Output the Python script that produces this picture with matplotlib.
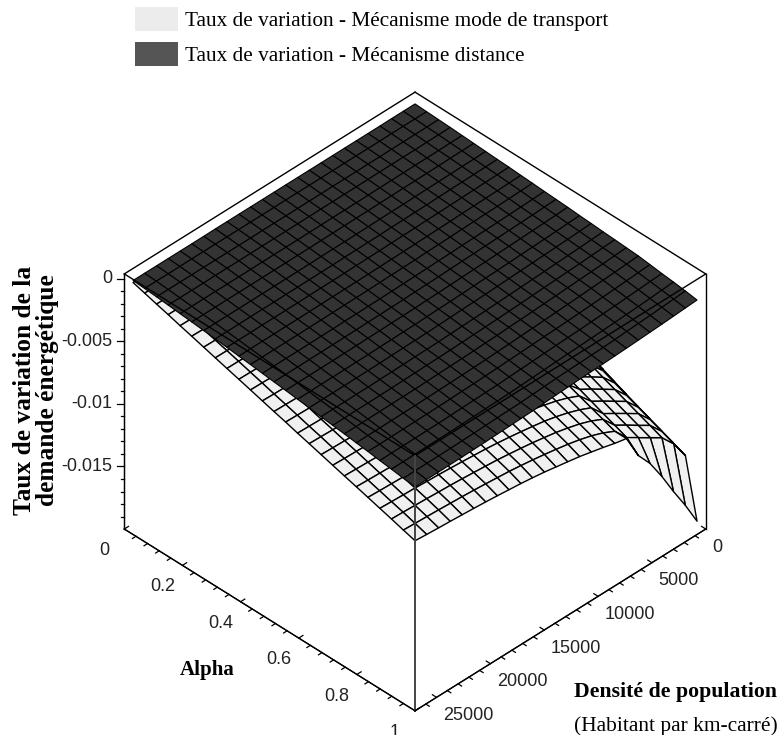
import matplotlib
matplotlib.use("Agg")
import matplotlib.pyplot as plt
from matplotlib.patches import Patch
import numpy as np

# mesh of the two surfaces
density_grid = [810, 1901, 2997, 4077, 5184, 6264, 7371, 8451, 9531, 10638, 11718, 12825, 13905,
                14985, 16092, 17172, 18279, 19359, 20439, 21546, 22626, 23733, 24813, 25920, 27000]
alpha_grid = [0.03, 0.07, 0.111, 0.151, 0.192, 0.232, 0.273, 0.313, 0.353, 0.394, 0.434, 0.475, 0.515,
              0.555, 0.596, 0.636, 0.677, 0.717, 0.757, 0.798, 0.838, 0.879, 0.919, 0.96, 1.0]

# distance mechanism, in 1e-5, one row per alpha
dark_z = [
    [33, 33, 33, 32, 32, 32, 32, 32, 32, 32, 32, 32, 32, 32, 32, 32, 32, 32, 31, 31, 31, 31, 31, 31, 31],
    [29, 29, 29, 29, 28, 28, 28, 28, 27, 27, 27, 27, 27, 26, 26, 26, 26, 26, 26, 26, 26, 25, 25, 25, 25],
    [25, 24, 24, 23, 23, 22, 22, 21, 21, 21, 20, 20, 19, 19, 19, 19, 18, 18, 18, 18, 18, 18, 18, 18, 18],
    [21, 20, 19, 18, 18, 17, 17, 16, 15, 15, 14, 14, 13, 13, 12, 12, 12, 11, 11, 11, 11, 10, 10, 10, 10],
    [16, 15, 13, 12, 12, 11, 10, 9, 8, 7, 6, 6, 5, 4, 4, 3, 3, 3, 2, 2, 2, 2, 2, 1, 1],
    [11, 10, 9, 7, 6, 5, 4, 3, 2, 1, 0, -1, -2, -3, -4, -4, -5, -5, -6, -6, -6, -6, -7, -7, -7],
    [6, 4, 3, 1, 0, -2, -3, -5, -6, -7, -8, -10, -11, -11, -12, -13, -14, -14, -15, -15, -16, -16, -16, -16, -16],
    [1, -1, -3, -5, -6, -8, -10, -11, -13, -14, -16, -17, -18, -19, -21, -21, -22, -23, -23, -24, -24, -24, -25, -25, -25],
    [-3, -6, -8, -10, -12, -14, -16, -18, -20, -21, -23, -25, -26, -27, -29, -30, -30, -31, -32, -33, -33, -33, -34, -34, -34],
    [-9, -12, -15, -17, -19, -21, -24, -26, -28, -30, -32, -34, -35, -37, -38, -39, -40, -41, -42, -43, -43, -44, -44, -44, -45],
    [-14, -17, -20, -23, -25, -28, -30, -33, -35, -37, -40, -42, -43, -45, -47, -48, -49, -50, -51, -52, -53, -53, -53, -54, -54],
    [-20, -24, -27, -30, -33, -36, -38, -41, -44, -46, -49, -51, -53, -55, -57, -58, -59, -60, -62, -62, -63, -64, -64, -64, -65],
    [-25, -29, -33, -36, -39, -42, -45, -48, -51, -54, -57, -59, -61, -64, -66, -67, -68, -70, -71, -72, -73, -73, -74, -74, -75],
    [-30, -35, -39, -42, -46, -49, -52, -56, -59, -62, -65, -68, -70, -73, -75, -76, -78, -79, -81, -82, -83, -83, -84, -84, -85],
    [-37, -42, -46, -50, -54, -57, -61, -65, -68, -71, -75, -78, -80, -83, -86, -87, -89, -90, -92, -93, -94, -95, -95, -96, -96],
    [-42, -47, -52, -56, -60, -64, -68, -72, -76, -80, -83, -86, -89, -92, -95, -97, -98, -100, -102, -103, -104, -105, -105, -106, -106],
    [-49, -54, -59, -64, -68, -73, -77, -81, -85, -89, -93, -97, -100, -103, -106, -108, -109, -111, -113, -114, -116, -116, -117, -117, -118],
    [-54, -60, -65, -71, -75, -80, -84, -89, -94, -98, -102, -106, -109, -112, -115, -117, -119, -121, -123, -125, -126, -127, -127, -128, -129],
    [-60, -66, -72, -77, -82, -87, -92, -97, -102, -106, -110, -115, -118, -122, -125, -127, -129, -132, -134, -135, -136, -137, -138, -139, -139],
    [-66, -73, -79, -85, -90, -96, -101, -106, -111, -116, -120, -125, -129, -133, -136, -139, -141, -143, -145, -147, -148, -149, -150, -151, -151],
    [-77, -84, -90, -97, -102, -107, -113, -117, -122, -125, -130, -134, -138, -142, -146, -149, -151, -154, -156, -158, -159, -160, -161, -162, -162],
    [-89, -95, -101, -107, -113, -118, -123, -128, -132, -136, -140, -145, -149, -153, -158, -160, -163, -165, -168, -170, -171, -172, -173, -174, -175],
    [-99, -106, -113, -119, -124, -129, -134, -138, -142, -146, -150, -155, -159, -164, -168, -171, -173, -176, -179, -181, -182, -183, -184, -185, -186],
    [-111, -118, -124, -131, -136, -141, -147, -152, -155, -158, -161, -165, -170, -175, -180, -182, -185, -188, -191, -193, -195, -196, -197, -198, -199],
    [-125, -131, -137, -143, -148, -153, -158, -162, -166, -169, -172, -176, -180, -185, -190, -193, -196, -199, -202, -204, -206, -207, -208, -209, -210],
]

# transport mode mechanism, depth below 0 in 1e-5, one list per density
white_depth = [
    [150, 271, 370, 449, 524, 591, 654, 712, 768, 824, 875, 925, 973, 1016, 1063, 1106, 1149, 1192, 1232, 1273, 1311, 1350, 1387, 1427, 1894],
    [100, 199, 284, 352, 419, 479, 537, 591, 642, 694, 742, 790, 834, 876, 921, 962, 1003, 1044, 1083, 1123, 1160, 1199, 1235, 1274, 1708],
    [69, 154, 228, 289, 350, 404, 458, 508, 557, 604, 650, 697, 739, 777, 822, 862, 902, 940, 979, 1017, 1054, 1092, 1128, 1166, 1539],
    [48, 122, 189, 247, 303, 355, 406, 455, 500, 547, 593, 638, 679, 717, 762, 800, 841, 880, 918, 957, 995, 1033, 1070, 1108, 1360],
    [31, 96, 157, 209, 261, 309, 358, 404, 448, 494, 536, 580, 621, 659, 702, 741, 781, 820, 858, 896, 934, 973, 1008, 1048, 1196],
    [19, 77, 131, 180, 228, 273, 319, 362, 405, 447, 490, 531, 571, 608, 649, 687, 727, 765, 803, 840, 877, 916, 951, 990, 1075],
    [7, 55, 102, 142, 185, 226, 265, 304, 342, 381, 419, 457, 493, 526, 565, 599, 636, 670, 706, 741, 775, 810, 844, 880, 880],
    [3, 46, 89, 128, 168, 206, 244, 281, 317, 354, 390, 426, 461, 493, 530, 563, 599, 632, 666, 700, 733, 768, 799, 835, 860],
    [-1, 39, 79, 116, 154, 190, 225, 262, 295, 332, 366, 402, 435, 466, 502, 534, 569, 601, 634, 668, 700, 734, 765, 800, 835],
    [-5, 33, 71, 105, 142, 176, 211, 245, 278, 313, 347, 382, 414, 444, 479, 511, 545, 577, 609, 641, 673, 706, 738, 772, 812],
    [-11, 22, 56, 88, 122, 155, 188, 221, 253, 287, 319, 353, 385, 418, 452, 484, 518, 550, 583, 616, 649, 683, 715, 750, 790],
    [-11, 20, 54, 85, 118, 150, 183, 214, 246, 279, 310, 344, 375, 407, 440, 471, 504, 536, 568, 600, 632, 666, 697, 731, 772],
    [-12, 19, 52, 82, 115, 146, 178, 209, 240, 272, 303, 335, 366, 397, 429, 460, 492, 523, 554, 586, 617, 650, 680, 714, 755],
    [-12, 18, 50, 80, 112, 142, 174, 204, 234, 266, 296, 328, 358, 388, 420, 450, 482, 512, 543, 574, 604, 636, 666, 699, 738],
    [-13, 17, 48, 78, 109, 139, 170, 199, 229, 260, 290, 321, 350, 380, 411, 441, 472, 502, 531, 562, 592, 623, 653, 685, 724],
    [-13, 16, 47, 76, 107, 136, 166, 195, 225, 255, 284, 315, 344, 373, 404, 433, 463, 493, 522, 552, 582, 612, 641, 673, 712],
    [-13, 15, 46, 74, 105, 134, 164, 192, 221, 251, 280, 311, 339, 368, 398, 427, 457, 486, 515, 545, 574, 604, 632, 664, 702],
    [-14, 15, 45, 73, 103, 132, 161, 190, 218, 248, 276, 306, 334, 363, 393, 421, 451, 479, 508, 537, 566, 596, 624, 655, 692],
    [-14, 14, 44, 72, 101, 130, 159, 187, 215, 244, 272, 302, 330, 358, 388, 416, 445, 473, 502, 531, 559, 589, 616, 647, 683],
    [-14, 14, 43, 70, 100, 128, 157, 185, 213, 241, 269, 299, 326, 354, 383, 411, 440, 468, 496, 525, 553, 582, 609, 640, 675],
    [-14, 13, 43, 70, 99, 126, 155, 183, 210, 239, 267, 296, 323, 350, 380, 407, 436, 464, 491, 520, 547, 577, 604, 634, 668],
    [-15, 13, 42, 69, 98, 125, 153, 181, 208, 236, 264, 293, 320, 347, 376, 403, 432, 459, 487, 515, 542, 571, 598, 628, 661],
    [-15, 12, 41, 68, 97, 124, 152, 179, 206, 234, 262, 290, 317, 344, 373, 400, 428, 455, 483, 511, 538, 567, 593, 623, 655],
    [-15, 12, 41, 67, 96, 123, 151, 177, 204, 232, 259, 288, 314, 341, 370, 396, 425, 452, 479, 507, 534, 562, 588, 618, 648],
    [-15, 12, 40, 66, 95, 121, 149, 176, 203, 230, 257, 285, 312, 338, 367, 393, 421, 448, 475, 502, 529, 557, 584, 613, 640],
]

density_ticks = [0, 5000, 10000, 15000, 20000, 25000]
alpha_ticks = [0, 0.2, 0.4, 0.6, 0.8, 1]
alpha_labels = ["0", "0.2", "0.4", "0.6", "0.8", "1"]
z_ticks = [0, -0.005, -0.01, -0.015]
z_labels = ["0", "-0.005", "-0.01", "-0.015"]
density_minor = [1000, 2000, 3000, 4000, 6000, 7000, 8000, 9000, 11000, 12000, 13000, 14000,
                 16000, 17000, 18000, 19000, 21000, 22000, 23000, 24000, 26000]
alpha_minor = [0.04, 0.08, 0.12, 0.16, 0.24, 0.28, 0.32, 0.36, 0.44, 0.48, 0.52, 0.56,
               0.64, 0.68, 0.72, 0.76, 0.84, 0.88, 0.92, 0.96]
z_minor = [-0.001, -0.002, -0.003, -0.004, -0.006, -0.007, -0.008, -0.009, -0.011, -0.012,
           -0.013, -0.014, -0.016, -0.017, -0.018, -0.019]

dmax = 27000
amax = 1
zmin = -0.02
zmax = 0.0004

W, H = 779, 735
SERIF = "Liberation Serif"
SANS = "Liberation Sans"

fig = plt.figure(figsize=(W / 100, H / 100), dpi=100, facecolor="white")
ax = fig.add_axes([37.6 / W, -43.9 / H, 735 / W, 1], projection="3d", computed_zorder=False)
ax.set_proj_type("ortho")
ax.view_init(elev=38.7, azim=45)
ax.set_box_aspect((1, 1, 0.795), zoom=0.881)
ax.patch.set_alpha(0)

X, Y = np.meshgrid(density_grid, alpha_grid)
Z_white = -np.array(white_depth).T / 1e5
Z_dark = np.array(dark_z) / 1e5

ax.plot_surface(X, Y, Z_white, rstride=1, cstride=1, color="#f0f0f0", edgecolor="black",
                linewidth=1.0, shade=False, zorder=1)
ax.plot_surface(X, Y, Z_dark, rstride=1, cstride=1, color="#333333", edgecolor="black",
                linewidth=0.8, shade=False, zorder=2)

ax.set_xlim(0, dmax, view_margin=0)
ax.set_ylim(0, amax, view_margin=0)
ax.set_zlim(zmin, zmax, view_margin=0)

for axis in (ax.xaxis, ax.yaxis, ax.zaxis):
    axis.set_pane_color((1, 1, 1, 0))
    axis.pane.set_edgecolor((1, 1, 1, 0))
    axis._axinfo["grid"]["linewidth"] = 0
    axis._axinfo["tick"]["outward_factor"] = 0.18
    axis._axinfo["tick"]["inward_factor"] = 0
    axis._axinfo["tick"]["linewidth"] = {True: 0.9, False: 0.9}
ax.zaxis._axinfo["tick"]["outward_factor"] = 0
ax.grid(False)

ax.set_xticks(density_ticks, [str(d) for d in density_ticks], fontsize=13, family=SANS, color="#222222",
              ha="left", va="top")
ax.set_yticks(alpha_ticks, alpha_labels, fontsize=13, family=SANS, color="#222222", ha="center", va="bottom")
ax.set_zticks(z_ticks, z_labels, fontsize=13, family=SANS, color="#222222", ha="right", va="center")
ax.tick_params(axis="x", pad=-2)
ax.tick_params(axis="y", pad=11)
ax.tick_params(axis="z", pad=-2.5)

# box outline, drawn over the surfaces as in the original
box = dict(color="black", lw=1.0, zorder=5)
ax.plot([0, dmax], [0, 0], [zmax, zmax], **box)
ax.plot([0, 0], [0, amax], [zmax, zmax], **box)
ax.plot([dmax, dmax], [0, amax], [zmax, zmax], **box)
ax.plot([0, dmax], [amax, amax], [zmax, zmax], **box)
ax.plot([dmax, dmax], [0, 0], [zmin, zmax], **box)
ax.plot([0, 0], [amax, amax], [zmin, zmax], **box)
ax.plot([dmax, dmax], [amax, amax], [zmin, zmax], color="#444444", lw=1.4, zorder=5)
ax.plot([0, dmax], [amax, amax], [zmin, zmin], **box)
ax.plot([dmax, dmax], [0, amax], [zmin, zmin], **box)

# small ticks between the labelled ones
minor = dict(color="black", lw=0.9, zorder=5)
for d in density_minor:
    ax.plot([d, d], [amax, amax + 0.012], [zmin, zmin], **minor)
for a in alpha_minor:
    ax.plot([dmax, dmax + 0.012 * dmax], [a, a], [zmin, zmin], **minor)
# value ticks stick out level to the left, so they go along density and against alpha
for z in z_minor:
    ax.plot([dmax, dmax + 0.006 * dmax], [0, -0.006], [z, z], **minor)
for z in z_ticks:
    ax.plot([dmax, dmax + 0.012 * dmax], [0, -0.012], [z, z], **minor)

handles = [Patch(facecolor="#ececec", edgecolor="none"), Patch(facecolor="#555555", edgecolor="none")]
fig.legend(handles, ["Taux de variation - Mécanisme mode de transport", "Taux de variation - Mécanisme distance"],
           loc="upper left", bbox_to_anchor=(135 / W, 1 - 7 / H), frameon=False, borderpad=0, borderaxespad=0,
           handlelength=2.0, handleheight=1.35, handletextpad=0.33, labelspacing=0.52,
           prop=dict(family=SERIF, size=15.3))

bold = dict(family=SERIF, weight="bold", color="black")
fig.text(36 / W, 1 - 390 / H, "Taux de variation de la\ndemande énergétique", rotation=90,
         ha="center", va="center", ma="center", linespacing=1.05, fontsize=18.3, **bold)
fig.text(207 / W, 1 - 670 / H, "Alpha", ha="center", va="center", fontsize=15, **bold)
fig.text(574 / W, 1 - 692 / H, "Densité de population", ha="left", va="center", fontsize=15.7, **bold)
fig.text(574 / W, 1 - 726 / H, "(Habitant par km-carré)", ha="left", va="center",
         family=SERIF, color="black", fontsize=15.4)

fig.savefig("out.png", dpi=100)
plt.close(fig)
